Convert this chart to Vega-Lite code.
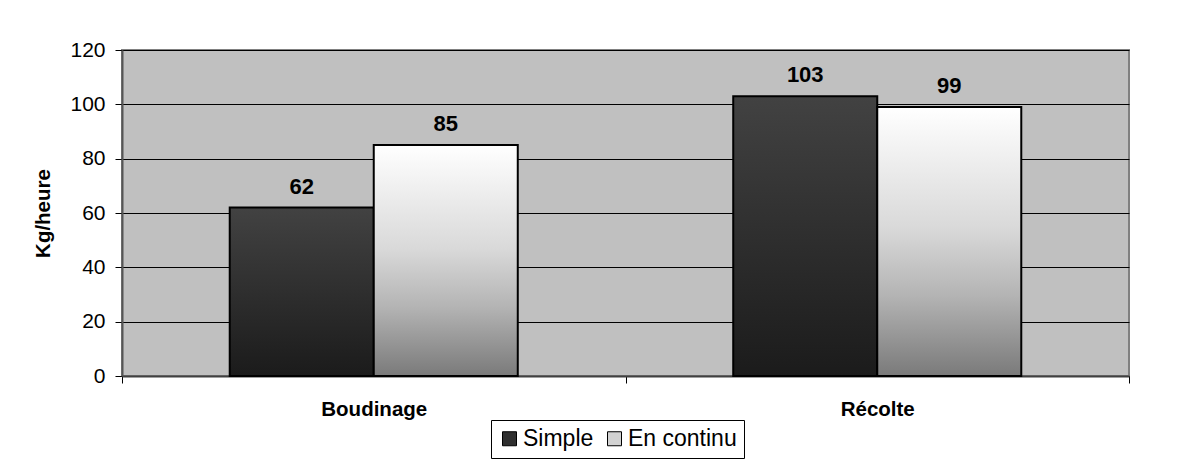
{
  "$schema": "https://vega.github.io/schema/vega-lite/v6.json",
  "width": 1007,
  "height": 326,
  "autosize": "none",
  "padding": {"left": 122, "top": 50, "right": 55, "bottom": 96},
  "background": "white",
  "data": {
    "values": [
      {"operation": "Boudinage", "mode": "Simple", "kg": 62},
      {"operation": "Boudinage", "mode": "En continu", "kg": 85},
      {"operation": "Récolte", "mode": "Simple", "kg": 103},
      {"operation": "Récolte", "mode": "En continu", "kg": 99}
    ]
  },
  "encoding": {
    "x": {
      "field": "operation",
      "type": "nominal",
      "sort": ["Boudinage", "Récolte"],
      "scale": {"paddingInner": 0, "paddingOuter": 0},
      "axis": {
        "title": null,
        "labelAngle": 0,
        "labelFont": "Liberation Sans",
        "labelFontSize": 20.5,
        "labelFontWeight": "bold",
        "labelColor": "black",
        "labelPadding": 16,
        "tickBand": "extent",
        "tickColor": "black",
        "tickSize": 7,
        "tickWidth": 1,
        "domainColor": "#404040",
        "domainWidth": 2
      }
    },
    "xOffset": {
      "field": "mode",
      "type": "nominal",
      "scale": {"domain": ["Simple", "En continu"], "paddingInner": 0, "paddingOuter": 0.748}
    },
    "y": {
      "field": "kg",
      "type": "quantitative",
      "scale": {"domain": [0, 120]},
      "axis": {
        "title": "Kg/heure",
        "titleFont": "Liberation Sans",
        "titleFontSize": 20.5,
        "titleFontWeight": "bold",
        "titleColor": "black",
        "titlePadding": 16,
        "values": [0, 20, 40, 60, 80, 100, 120],
        "labelFont": "Liberation Sans",
        "labelFontSize": 21,
        "labelColor": "black",
        "labelPadding": 10,
        "tickColor": "black",
        "tickSize": 7,
        "grid": true,
        "gridColor": "black",
        "gridWidth": 1,
        "gridOpacity": 1,
        "domainColor": "#555555",
        "domainWidth": 2
      }
    }
  },
  "layer": [
    {
      "mark": {"type": "bar", "stroke": "black", "strokeWidth": 2},
      "encoding": {
        "fill": {
          "condition": {
            "test": "datum.mode === 'Simple'",
            "value": {
              "gradient": "linear", "x1": 0, "y1": 0, "x2": 0, "y2": 1,
              "stops": [
                {"offset": 0, "color": "#424242"},
                {"offset": 1, "color": "#1b1b1b"}
              ]
            }
          },
          "value": {
            "gradient": "linear", "x1": 0, "y1": 0, "x2": 0, "y2": 1,
            "stops": [
              {"offset": 0, "color": "#ffffff"},
              {"offset": 0.45, "color": "#d9d9d9"},
              {"offset": 0.7, "color": "#b4b4b4"},
              {"offset": 1, "color": "#7a7a7a"}
            ]
          }
        }
      }
    },
    {
      "mark": {"type": "point", "filled": true, "opacity": 0, "size": 1},
      "encoding": {
        "fill": {
          "field": "mode",
          "type": "nominal",
          "scale": {"domain": ["Simple", "En continu"], "range": ["#2f2f2f", "#d2d2d2"]},
          "legend": {
            "title": null,
            "orient": "none",
            "legendX": 369,
            "legendY": 370,
            "direction": "horizontal",
            "strokeColor": "black",
            "padding": 7,
            "symbolType": "square",
            "symbolSize": 196,
            "symbolStrokeColor": "black",
            "symbolStrokeWidth": 1,
            "symbolOpacity": 1,
            "labelFont": "Liberation Sans",
            "labelFontSize": 23,
            "labelColor": "black",
            "labelOffset": 2,
            "columnPadding": 9,
            "encoding": {
              "symbols": {
                "opacity": {"value": 1},
                "stroke": {"value": "black"},
                "strokeWidth": {"value": 1}
              }
            }
          }
        }
      }
    },
    {
      "mark": {
        "type": "text",
        "dy": -14,
        "baseline": "alphabetic",
        "font": "Liberation Sans",
        "fontSize": 22,
        "fontWeight": "bold",
        "color": "black"
      },
      "encoding": {
        "text": {"field": "kg", "type": "quantitative"}
      }
    }
  ],
  "config": {
    "view": {"fill": "#C0C0C0", "stroke": "#808080", "strokeWidth": 2}
  }
}
